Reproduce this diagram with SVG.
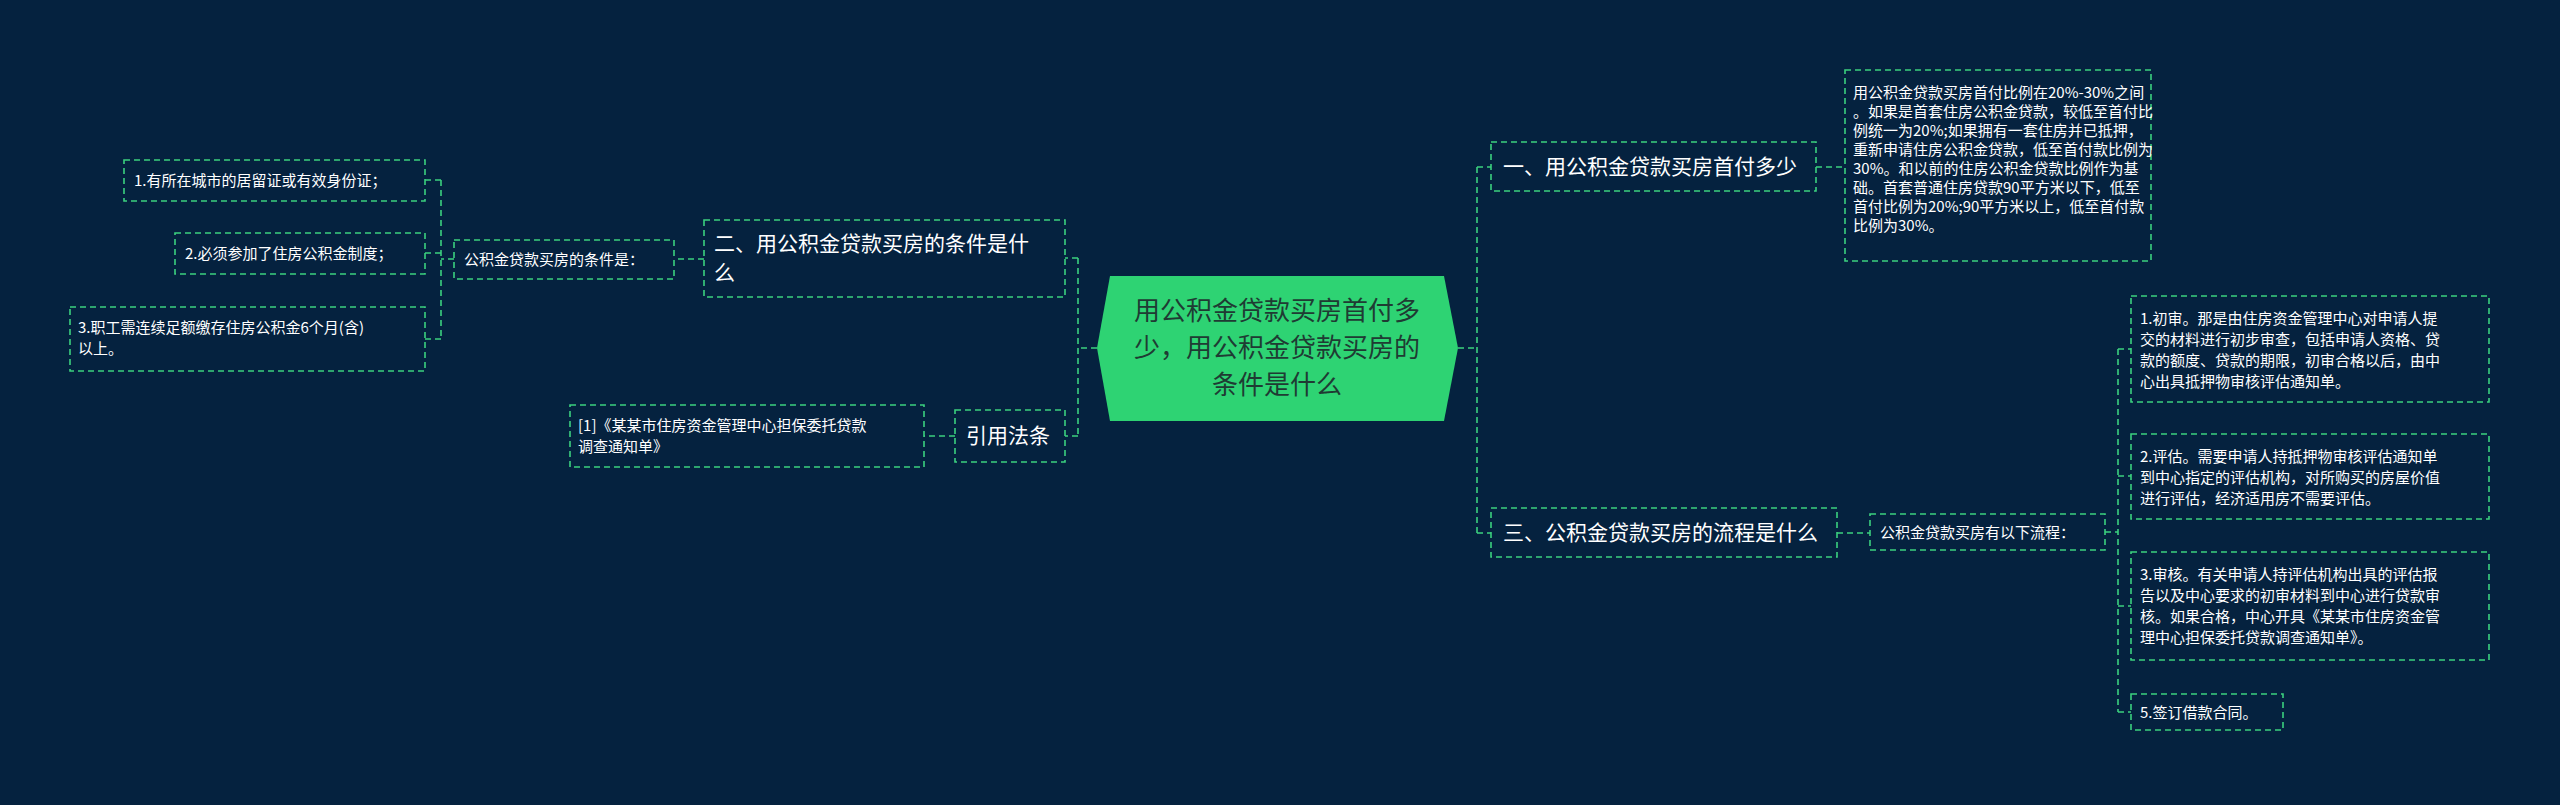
<svg xmlns="http://www.w3.org/2000/svg" width="2560" height="805" viewBox="0 0 2560 805">
<style>
.b{fill:none;stroke:#3bd17f;stroke-width:1.6;stroke-dasharray:6 4}
.c{fill:none;stroke:#3bd17f;stroke-width:1.6;stroke-dasharray:6 4}
text{font-family:"Noto Sans CJK SC","Liberation Sans",sans-serif;fill:#ffffff}
.l{font-size:21px}.s{font-size:15px}
</style>
<rect width="2560" height="805" fill="#05223f"/>
<g id="connectors">
<path class="c" d="M1458 348H1477M1477 167V533M1477 167H1491M1477 533H1491"/>
<path class="c" d="M1097 348H1078M1078 258V436M1078 258H1065M1078 436H1065"/>
<path class="c" d="M704 259H674M454 259H441M441 180V339M441 180H425M441 253H425M441 339H425"/>
<path class="c" d="M955 436H924"/>
<path class="c" d="M1816 167H1845"/>
<path class="c" d="M1837 533H1870M2105 532H2118M2118 349V712M2118 349H2131M2118 476H2131M2118 606H2131M2118 712H2131"/>
</g>
<g id="central">
<polygon points="1110,276 1444,276 1458,348 1444,421 1110,421 1097,348" fill="#2ed373"/>
<text x="1277" y="320" font-size="26" text-anchor="middle" style="fill:#1f3b33">用公积金贷款买房首付多</text>
<text x="1277" y="357" font-size="26" text-anchor="middle" style="fill:#1f3b33">少，用公积金贷款买房的</text>
<text x="1277" y="394" font-size="26" text-anchor="middle" style="fill:#1f3b33">条件是什么</text>
</g>
<g id="n1"><rect class="b" x="1491" y="142" width="325" height="49"/><text class="l" x="1503" y="174">一、用公积金贷款买房首付多少</text></g>
<g id="n1d"><rect class="b" x="1845" y="70" width="306" height="191"/>
<text class="s" x="1853" y="98">用公积金贷款买房首付比例在20%-30%之间</text>
<text class="s" x="1853" y="117">。如果是首套住房公积金贷款，较低至首付比</text>
<text class="s" x="1853" y="136">例统一为20%;如果拥有一套住房并已抵押，</text>
<text class="s" x="1853" y="155">重新申请住房公积金贷款，低至首付款比例为</text>
<text class="s" x="1853" y="174">30%。和以前的住房公积金贷款比例作为基</text>
<text class="s" x="1853" y="193">础。首套普通住房贷款90平方米以下，低至</text>
<text class="s" x="1853" y="212">首付比例为20%;90平方米以上，低至首付款</text>
<text class="s" x="1853" y="231">比例为30%。</text>
</g>
<g id="n3"><rect class="b" x="1491" y="508" width="346" height="49"/><text class="l" x="1503" y="540">三、公积金贷款买房的流程是什么</text></g>
<g id="n3a"><rect class="b" x="1870" y="514" width="235" height="36"/><text class="s" x="1880" y="538">公积金贷款买房有以下流程：</text></g>
<g id="s1"><rect class="b" x="2131" y="296" width="358" height="106"/>
<text class="s" x="2140" y="324">1.初审。那是由住房资金管理中心对申请人提</text>
<text class="s" x="2140" y="345">交的材料进行初步审查，包括申请人资格、贷</text>
<text class="s" x="2140" y="366">款的额度、贷款的期限，初审合格以后，由中</text>
<text class="s" x="2140" y="387">心出具抵押物审核评估通知单。</text></g>
<g id="s2"><rect class="b" x="2131" y="434" width="358" height="85"/>
<text class="s" x="2140" y="462">2.评估。需要申请人持抵押物审核评估通知单</text>
<text class="s" x="2140" y="483">到中心指定的评估机构，对所购买的房屋价值</text>
<text class="s" x="2140" y="504">进行评估，经济适用房不需要评估。</text></g>
<g id="s3"><rect class="b" x="2131" y="552" width="358" height="108"/>
<text class="s" x="2140" y="580">3.审核。有关申请人持评估机构出具的评估报</text>
<text class="s" x="2140" y="601">告以及中心要求的初审材料到中心进行贷款审</text>
<text class="s" x="2140" y="622">核。如果合格，中心开具《某某市住房资金管</text>
<text class="s" x="2140" y="643">理中心担保委托贷款调查通知单》。</text></g>
<g id="s5"><rect class="b" x="2131" y="694" width="152" height="36"/><text class="s" x="2140" y="718">5.签订借款合同。</text></g>
<g id="n2"><rect class="b" x="704" y="220" width="361" height="77"/>
<text class="l" x="714" y="251">二、用公积金贷款买房的条件是什</text>
<text class="l" x="714" y="280">么</text></g>
<g id="n2a"><rect class="b" x="454" y="240" width="220" height="39"/><text class="s" x="464" y="265">公积金贷款买房的条件是：</text></g>
<g id="i1"><rect class="b" x="124" y="160" width="301" height="41"/><text class="s" x="134" y="186">1.有所在城市的居留证或有效身份证；</text></g>
<g id="i2"><rect class="b" x="175" y="233" width="250" height="41"/><text class="s" x="185" y="259">2.必须参加了住房公积金制度；</text></g>
<g id="i3"><rect class="b" x="70" y="307" width="355" height="64"/>
<text class="s" x="78" y="333">3.职工需连续足额缴存住房公积金6个月(含)</text>
<text class="s" x="78" y="354">以上。</text></g>
<g id="law"><rect class="b" x="955" y="410" width="110" height="52"/><text class="l" x="966" y="443">引用法条</text></g>
<g id="ref"><rect class="b" x="570" y="405" width="354" height="62"/>
<text class="s" x="578" y="431">[1]《某某市住房资金管理中心担保委托贷款</text>
<text class="s" x="578" y="452">调查通知单》</text></g>
</svg>
